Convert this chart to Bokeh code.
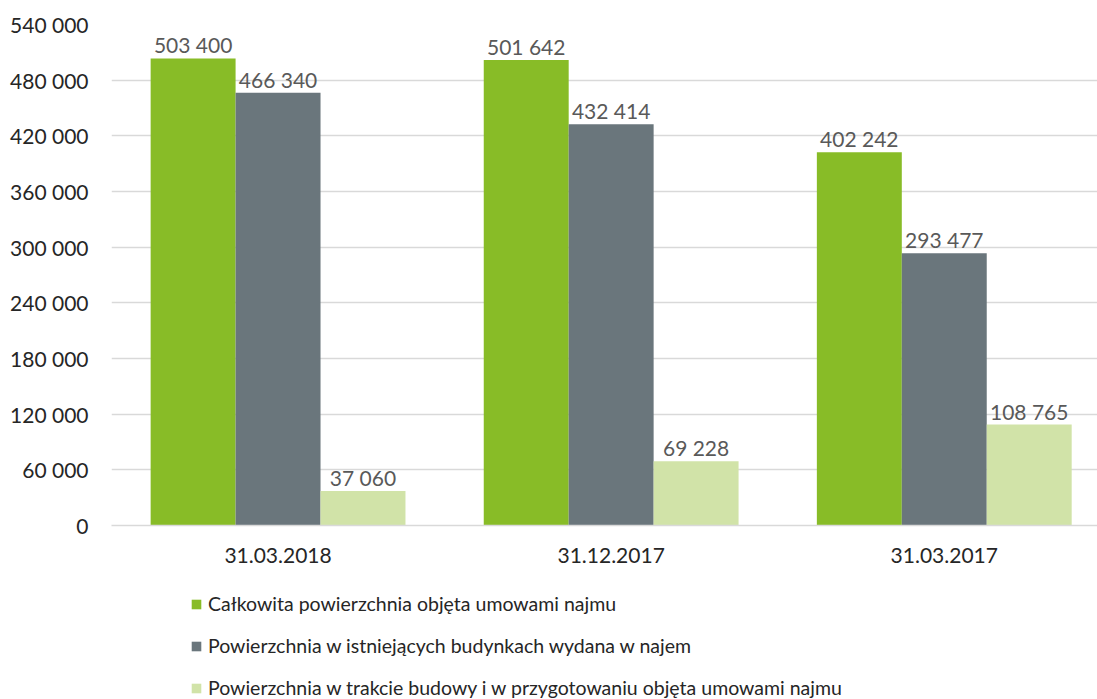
import numpy as np
from bokeh.plotting import figure
from bokeh.layouts import column
from bokeh.models import (ColumnDataSource, Range1d, FixedTicker, Legend, LegendItem, LabelSet)
from bokeh.core.properties import value
from bokeh.embed import file_html
from bokeh.resources import INLINE

categories = ["31.03.2018", "31.12.2017", "31.03.2017"]
series_names = [
    "Całkowita powierzchnia objęta umowami najmu",
    "Powierzchnia w istniejących budynkach wydana w najem",
    "Powierzchnia w trakcie budowy i w przygotowaniu objęta umowami najmu",
]
total_area = [503400, 501642, 402242]
existing_area = [466340, 432414, 293477]
construction_area = [37060, 69228, 108765]
y_ticks = [0, 60000, 120000, 180000, 240000, 300000, 360000, 420000, 480000, 540000]

colors = ["#88bc27", "#6a767c", "#d1e3a8"]
FONT = "Lato"

def fmt(v):
    return f"{v:,}".replace(",", " ")

p = figure(width=1097, height=575, output_backend="svg", toolbar_location=None,
           x_range=Range1d(0, 2.96), y_range=Range1d(0, 540000),
           min_border_left=111, min_border_right=0, min_border_top=24, min_border_bottom=50)
p.outline_line_color = None
p.xgrid.grid_line_color = None
p.ygrid.grid_line_color = "#d9d9d9"
p.ygrid.grid_line_width = 1.5

bar_w = 0.255
offsets = [-bar_w, 0.0, bar_w]
all_series = [total_area, existing_area, construction_area]
sources = []
for vals, off, col in zip(all_series, offsets, colors):
    xs = np.arange(len(categories)) + 0.5 + off
    src = ColumnDataSource(dict(x=xs, top=vals, label=[fmt(v) for v in vals]))
    sources.append(src)
    p.vbar(x="x", top="top", width=bar_w, bottom=0, source=src,
           fill_color=col, line_color=None)
    p.add_layout(LabelSet(x="x", y="top", text="label", source=src,
                          text_align="center", text_baseline="bottom", y_offset=1,
                          text_font=value(FONT), text_font_size="21px", text_color="#595959"))

# axes
p.xaxis.ticker = FixedTicker(ticks=[i + 0.5 for i in range(len(categories))])
p.xaxis.major_label_overrides = {i + 0.5: c for i, c in enumerate(categories)}
p.xaxis.axis_line_color = "#d9d9d9"
p.xaxis.axis_line_width = 1.5
p.xaxis.major_tick_line_color = None
p.xaxis.minor_tick_line_color = None
p.xaxis.major_label_standoff = 16
p.xaxis.major_label_text_font = FONT
p.xaxis.major_label_text_font_size = "21px"
p.xaxis.major_label_text_color = "#262626"

p.yaxis.ticker = FixedTicker(ticks=y_ticks)
p.yaxis.major_label_overrides = {t: fmt(t) for t in y_ticks}
p.yaxis.axis_line_color = None
p.yaxis.major_tick_line_color = None
p.yaxis.minor_tick_line_color = None
p.yaxis.major_label_standoff = 17
p.yaxis.major_label_text_font = FONT
p.yaxis.major_label_text_font_size = "21px"
p.yaxis.major_label_text_color = "#262626"

# legend panel (hidden copies of the series so only the legend shows)
p2 = figure(width=1097, height=124, output_backend="svg", toolbar_location=None,
            x_axis_type=None, y_axis_type=None, min_border=0,
            x_range=Range1d(0, 2.96), y_range=Range1d(0, 540000))
p2.outline_line_color = None
p2.grid.grid_line_color = None
leg_renderers = []
for src, col in zip(sources, colors):
    leg_renderers.append(p2.vbar(x="x", top="top", bottom=0, width=bar_w, source=src,
                                 fill_color=col, line_color=None, visible=False))

legend = Legend(items=[LegendItem(label=n, renderers=[r]) for n, r in zip(series_names, leg_renderers)],
                location=(79, 0), orientation="vertical",
                glyph_width=12, glyph_height=12, label_height=20, spacing=19,
                label_standoff=6, padding=0, margin=0,
                border_line_color=None, background_fill_alpha=0,
                inactive_fill_alpha=0,
                label_text_font=FONT, label_text_font_size="19.5px", label_text_color="#262626")
p2.add_layout(legend, "center")

open("out.html", "w").write(file_html(column(p, p2), INLINE))
